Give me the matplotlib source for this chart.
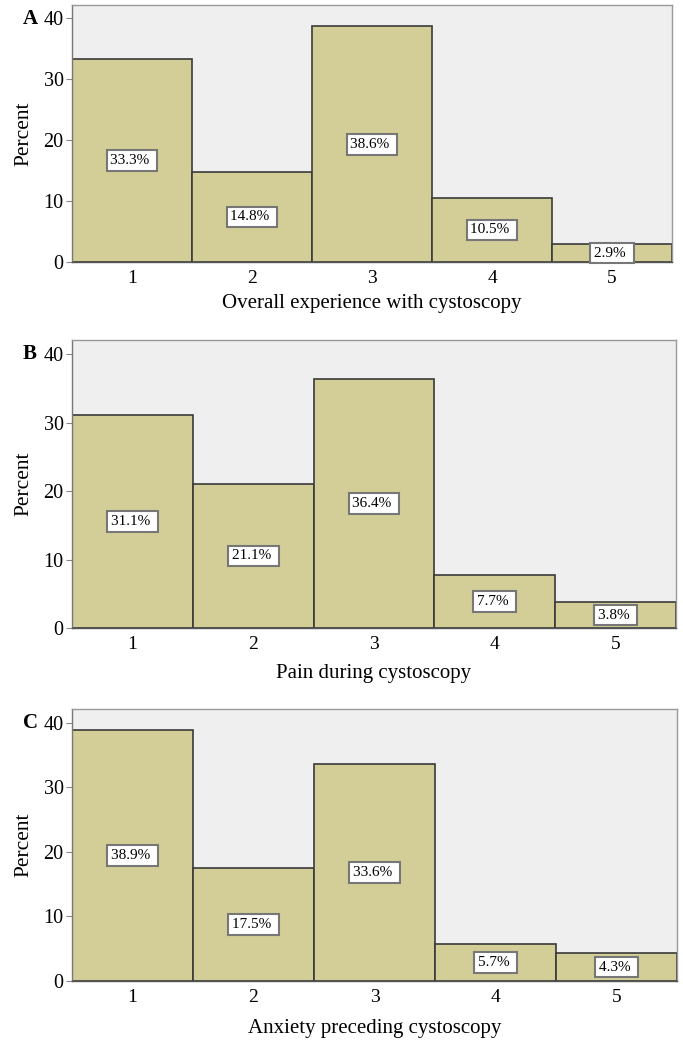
import matplotlib
matplotlib.use("Agg")
import matplotlib.pyplot as plt

plt.rcParams['font.family'] = ['Liberation Serif', 'DejaVu Serif']

categories = [1, 2, 3, 4, 5]
overall = [33.3, 14.8, 38.6, 10.5, 2.9]
pain = [31.1, 21.1, 36.4, 7.7, 3.8]
anxiety = [38.9, 17.5, 33.6, 5.7, 4.3]
panel_letters = ["A", "B", "C"]
xlabels = ["Overall experience with cystoscopy", "Pain during cystoscopy",
           "Anxiety preceding cystoscopy"]
yticks = [0, 10, 20, 30, 40]

W, H = 683, 1040
fig = plt.figure(figsize=(W / 100, H / 100), dpi=100)

# (left, right, top, bottom) in pixels
boxes = [(72, 672, 5, 262), (72, 676, 340, 628), (72, 677, 709, 981)]
series = [overall, pain, anxiety]
label_pads = [5, 8, 9]

for (l, r, t, b), vals, letter, xl, lp in zip(boxes, series, panel_letters,
                                              xlabels, label_pads):
    ax = fig.add_axes([l / W, 1 - b / H, (r - l) / W, (b - t) / H])
    ax.set_facecolor('#efefef')
    ax.bar(categories, vals, width=1.0, color='#d3cd97', edgecolor='#3a3a3a',
           linewidth=1.2, zorder=2)
    ax.set_xlim(0.5, 5.5)
    ax.set_ylim(0, 42.1)
    ax.set_yticks(yticks)
    ax.set_xticks(categories)
    ax.tick_params(axis='y', direction='out', length=4, color='#888888',
                   labelsize=14.5, pad=2)
    ax.tick_params(axis='x', direction='in', length=3, color='#555555',
                   labelsize=14, pad=6)
    for sp in ax.spines.values():
        sp.set_color('#999999')
        sp.set_linewidth(1.0)
    ax.spines['left'].set_color('#777777')
    ax.spines['bottom'].set_color('#555555')
    ax.set_ylabel("Percent", fontsize=15.5, labelpad=7)
    ax.set_xlabel(xl, fontsize=15, labelpad=lp)
    for c, v in zip(categories, vals):
        ax.text(c, v / 2, f"{v:.1f}% ", ha='center', va='center', fontsize=11,
                zorder=4,
                bbox=dict(boxstyle='square,pad=0.25', fc='white',
                          ec='#777777', lw=1.5))
    fig.text(30 / W, 1 - (t + 14) / H, letter, fontsize=15, fontweight='bold',
             ha='center', va='center')

fig.savefig("out.png", dpi=100)
